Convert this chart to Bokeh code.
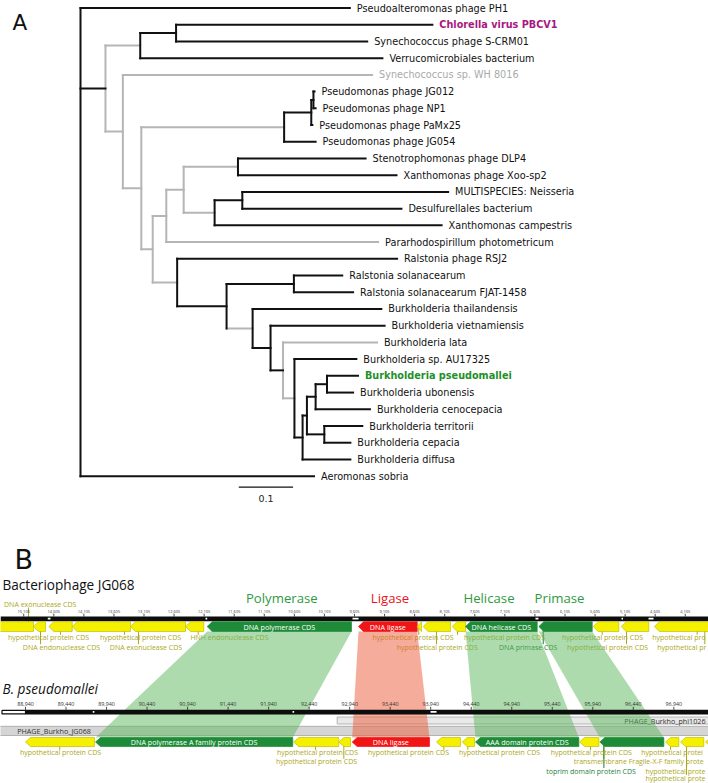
from bokeh.plotting import figure
from bokeh.layouts import column
from bokeh.models import Range1d, ColumnDataSource
from bokeh.core.properties import value
from bokeh.embed import file_html
from bokeh.resources import INLINE

# ---------------- layout constants ----------------
W, H = 708, 783
REF_W, REF_H = 708.0, 783.0
SX, SY = W / REF_W, H / REF_H
HA = 520
HB = H - HA
SPLIT = HA / SY


def fs(px):
    return "%.2fpx" % (px * SX)


# ================= Panel A: tree data =================
leaf_order = ["PH1", "Chlorella", "SCRM01", "Verruco", "WH8016", "JG012", "NP1", "PaMx25", "JG054",
              "DLP4", "Xoo", "MULTI", "Desulf", "Xcamp", "Parar", "RSJ2", "Rsol", "FJAT", "thai",
              "viet", "lata", "AU", "pseudo", "ubon", "ceno", "terr", "cepacia", "diffusa", "Aeromonas"]
leaf_labels = ["Pseudoalteromonas phage PH1", "Chlorella virus PBCV1", "Synechococcus phage S-CRM01",
               "Verrucomicrobiales bacterium", "Synechococcus sp. WH 8016", "Pseudomonas phage JG012",
               "Pseudomonas phage NP1", "Pseudomonas phage PaMx25", "Pseudomonas phage JG054",
               "Stenotrophomonas phage DLP4", "Xanthomonas phage Xoo-sp2", "MULTISPECIES: Neisseria",
               "Desulfurellales bacterium", "Xanthomonas campestris", "Pararhodospirillum photometricum",
               "Ralstonia phage RSJ2", "Ralstonia solanacearum", "Ralstonia solanacearum FJAT-1458",
               "Burkholderia thailandensis", "Burkholderia vietnamiensis", "Burkholderia lata",
               "Burkholderia sp. AU17325", "Burkholderia pseudomallei", "Burkholderia ubonensis",
               "Burkholderia cenocepacia", "Burkholderia territorii", "Burkholderia cepacia",
               "Burkholderia diffusa", "Aeromonas sobria"]
leaf_highlight = {"Chlorella": "magenta", "WH8016": "gray", "pseudo": "green"}

node_name = ["root", "PH1", "N1", "Aeromonas", "N2", "N3", "Chlorella", "SCRM01", "Verruco",
             "N4", "WH8016", "N5", "Np", "Np2", "Np3", "JG012", "NP1", "PaMx25", "JG054",
             "N6", "N7", "N8", "Ndlp", "DLP4", "Xoo", "Nx", "Nmd", "MULTI", "Desulf", "Xcamp",
             "Parar", "Nr", "RSJ2", "Nr2", "Nral", "Rsol", "FJAT", "Nb1", "thai", "Nb2", "viet",
             "Nb3", "lata", "Nb4", "AU", "Nb5", "Nb6", "Nb7", "Nb8", "pseudo", "ubon", "ceno",
             "Nb9", "terr", "cepacia", "diffusa"]
node_parent = [None, "root", "root", "root", "N1", "N2", "N3", "N3", "N2",
               "N1", "N4", "N4", "N5", "Np", "Np2", "Np3", "Np3", "Np2", "Np",
               "N5", "N6", "N7", "N8", "Ndlp", "Ndlp", "N8", "Nx", "Nmd", "Nmd", "Nx",
               "N7", "N6", "Nr", "Nr", "Nr2", "Nral", "Nral", "Nr2", "Nb1", "Nb1", "Nb2",
               "Nb2", "Nb3", "Nb3", "Nb4", "Nb4", "Nb5", "Nb6", "Nb7", "Nb8", "Nb8", "Nb7",
               "Nb6", "Nb9", "Nb9", "Nb5"]
node_depth = [0.000, 0.496, 0.046, 0.430, 0.110, 0.176, 0.648, 0.528, 0.556,
              0.078, 0.537, 0.112, 0.375, 0.425, 0.429, 0.431, 0.433, 0.427, 0.433,
              0.133, 0.158, 0.190, 0.290, 0.525, 0.582, 0.247, 0.298, 0.677, 0.591, 0.665,
              0.548, 0.178, 0.583, 0.269, 0.393, 0.482, 0.502, 0.317, 0.554, 0.350, 0.560,
              0.373, 0.546, 0.394, 0.508, 0.409, 0.417, 0.433, 0.454, 0.511, 0.502, 0.533,
              0.449, 0.519, 0.497, 0.497]
# colour of the branch leading into each node (k = black, g = grey)
branch_col = ["k", "k", "k", "k", "g", "k", "k", "k", "k",
              "g", "g", "g", "g", "k", "k", "k", "k", "k", "k",
              "g", "g", "g", "g", "k", "k", "g", "k", "k", "k", "k",
              "g", "g", "k", "k", "k", "k", "k", "g", "k", "k", "k",
              "k", "g", "g", "k", "k", "k", "k", "k", "k", "k", "k",
              "k", "k", "k", "k"]
# colour of the vertical connector of each internal node
clade_col = {"root": "k", "N1": "g", "N2": "k", "N3": "k", "N4": "g", "N5": "g", "Np": "k",
             "Np2": "k", "Np3": "k", "N6": "g", "N7": "g", "N8": "g", "Ndlp": "k", "Nx": "k",
             "Nmd": "k", "Nr": "k", "Nr2": "k", "Nral": "k", "Nb1": "k", "Nb2": "k", "Nb3": "g",
             "Nb4": "k", "Nb5": "k", "Nb6": "k", "Nb7": "k", "Nb8": "k", "Nb9": "k"}
SCALE_VALUE = 0.1
SCALE_START = 0.2915

# ================= Panel B: genome data =================
ph_ticks = [15105, 14605, 14105, 13605, 13105, 12605, 12105, 11605, 11105, 10605, 10105, 9605,
            9105, 8605, 8105, 7605, 7105, 6605, 6105, 5605, 5105, 4605, 4105]
ps_ticks = [88940, 89440, 89940, 90440, 90940, 91440, 91940, 92440, 92940, 93440, 93940,
            94440, 94940, 95440, 95940, 96440, 96940]

# phage genes: arrow goes from `from` to `to` (tip at `to`)
ph_gene_from = [14943, 14743, 14299, 13330, 12415, 12111, 9655, 8562, 8491, 8009, 7759, 6567, 5652,
                5210, 4711, 2854]
ph_gene_to = [15824, 14943, 14688, 14299, 13330, 12415, 12054, 9538, 8562, 8463, 7980, 7759, 6540,
              5636, 5170, 4617]
ph_gene_kind = ["hyp", "hyp", "hyp", "hyp", "hyp", "hyp", "green", "red", "hyp", "hyp", "hyp",
                "green", "green", "hyp", "hyp", "hyp"]
ph_gene_text = ["", "", "", "", "", "", "DNA polymerase CDS", "DNA ligase", "", "", "",
                "DNA helicase CDS", "", "", "", ""]

# feature labels (text as visible in the figure; the last ones run off the right edge there)
ph_lab_text = ["DNA exonuclease CDS", "DNA endonuclease CDS", "hypothetical protein CDS",
               "hypothetical protein CDS", "DNA exonuclease CDS", "HNH endonuclease CDS",
               "hypothetical protein CDS", "hypothetical protein CDS", "hypothetical protein CDS",
               "DNA primase CDS", "hypothetical protein CDS", "hypothetical protein CDS",
               "hypothetical pro", "hypothetical pr"]
ph_lab_bp = [14831, 14477, 14693, 13163, 13072, 11684, 8632, 8230, 7111, 6717, 5481, 5398, 4655, 4572]
ph_lab_line = [15026, 14826, 14494, 13429, 13197, 12204, 8536, 8242, 7892, 6467, 5486, 5082, 3907, 3780]
ph_lab_row = [0, 2, 1, 1, 2, 1, 1, 2, 1, 2, 1, 2, 1, 2]
ph_lab_kind = ["hyp"] * 9 + ["green"] + ["hyp"] * 4
ph_lab_align = ["center"] * 12 + ["left", "left"]
ph_marks_lo = [14660, 12054, 9538, 6546, 5140, 4633]
ph_marks_hi = [14705, 12082, 9638, 6596, 5165, 4716]

ps_gene_from = [89791, 92238, 92806, 92951, 93925, 94308, 94481, 95768, 96015, 96817, 97002, 97310, 97763]
ps_gene_to = [88940, 89804, 92250, 92806, 92971, 94012, 94329, 94493, 95776, 96027, 96838, 97023, 97331]
ps_gene_kind = ["hyp", "green", "hyp", "hyp", "red", "hyp", "hyp", "green", "hyp", "green", "hyp",
                "hyp", "hyp"]
ps_gene_text = ["", "DNA polymerase A family protein CDS", "", "", "DNA ligase", "", "",
                "AAA domain protein CDS", "", "", "", "", ""]

ps_lab_text = ["hypothetical protein CDS", "hypothetical protein CDS", "hypothetical protein CDS",
               "hypothetical protein CDS", "hypothetical protein CDS", "hypothetical protein CDS",
               "transmembrane Fragile-X-F family prote", "toprim domain protein CDS",
               "hypothetical protei", "hypothetical prote", "hypothetical prote"]
ps_lab_bp = [89372, 92543, 92531, 93666, 94789, 95922, 95706, 95918, 96538, 96591, 96591]
ps_lab_line = [89363, 92519, 92868, 94102, 94398, 95912, 96077, 96077, 96899, 97097, 97097]
ps_lab_row = [1, 1, 2, 1, 1, 1, 2, 3, 1, 3, 4]
ps_lab_kind = ["hyp"] * 7 + ["green"] + ["hyp"] * 3
ps_lab_align = ["center"] * 6 + ["left", "center", "left", "left", "left"]
ps_marks_lo = [89770, 92235, 93938]
ps_marks_hi = [89790, 92255, 94012]

ps_region_name = ["PHAGE_Burkho_phi1026", "PHAGE_Burkho_JG068"]
ps_region_lo = [92786, 88500]
ps_region_hi = [97600, 97600]

head_text = ["Polymerase", "Ligase", "Helicase", "Primase"]
head_bp = [10814, 9015, 7369, 6196]
head_kind = ["green", "red", "green", "green"]

# homologous pairs (index into phage genes, index into B. pseudomallei genes)
hom_ph = [6, 7, 11, 12]
hom_ps = [1, 4, 7, 9]

# ---------------- styles ----------------
TREE_COL = {"k": "#111111", "g": "#b5b5b5"}
HL_COL = {"magenta": "#a7197f", "gray": "#aaaaaa", "green": "#23902a", "": "#111111"}
GENE_FILL = {"hyp": "#f4f000", "green": "#1e8b38", "red": "#f21515"}
GENE_LINE = {"hyp": "#c4bf00", "green": "#1e8b38", "red": "#f21515"}
LAB_COL = {"hyp": "#aca71a", "green": "#1f7d3c"}
HEAD_COL = {"green": "#2f9a3f", "red": "#e8141b"}
HOM_COL = {"green": "#5cb85c", "red": "#ee5a36"}
FONT = "Open Sans"
LETTER_FONT = "DejaVu Sans"

# ================= Panel A figure =================
ROOT_PX, PX_PER_UNIT = 80.0, 543.0
TOP_PX, ROW_PX = 7.5, 16.72
xa = Range1d(start=(0 - ROOT_PX) / PX_PER_UNIT, end=(REF_W - ROOT_PX) / PX_PER_UNIT)
ya = Range1d(start=(SPLIT - TOP_PX) / ROW_PX, end=(0 - TOP_PX) / ROW_PX)
pA = figure(width=W, height=HA, x_range=xa, y_range=ya, output_backend="svg",
            toolbar_location=None, min_border=0, x_axis_location=None, y_axis_location=None,
            outline_line_color=None, background_fill_color="white", border_fill_color="white")
pA.grid.visible = False

depth = dict(zip(node_name, node_depth))
children = {}
for n, par in zip(node_name, node_parent):
    if par is not None:
        children.setdefault(par, []).append(n)
leaf_index = {n: i for i, n in enumerate(leaf_order)}
ypos = {}


def gety(n):
    if n in ypos:
        return ypos[n]
    if n in leaf_index:
        ypos[n] = float(leaf_index[n])
    else:
        ys = [gety(c) for c in children[n]]
        ypos[n] = (min(ys) + max(ys)) / 2.0
    return ypos[n]


for n in node_name:
    gety(n)

for col in ["g", "k"]:
    hx0, hx1, hy = [], [], []
    for n, par, bc in zip(node_name, node_parent, branch_col):
        if par is None or bc != col:
            continue
        hx0.append(depth[par]); hx1.append(depth[n]); hy.append(ypos[n])
    pA.segment(x0=hx0, y0=hy, x1=hx1, y1=hy, line_color=TREE_COL[col], line_width=2,
               line_cap="square")
    vx, vy0, vy1 = [], [], []
    for n, cc in clade_col.items():
        if cc != col:
            continue
        ys = [ypos[c] for c in children[n]]
        vx.append(depth[n]); vy0.append(min(ys)); vy1.append(max(ys))
    pA.segment(x0=vx, y0=vy0, x1=vx, y1=vy1, line_color=TREE_COL[col], line_width=2,
               line_cap="square")

lab_src = ColumnDataSource(dict(
    x=[depth[n] for n in leaf_order],
    y=[ypos[n] for n in leaf_order],
    text=leaf_labels,
    color=[HL_COL[leaf_highlight.get(n, "")] for n in leaf_order],
    style=["bold" if leaf_highlight.get(n, "") in ("magenta", "green") else "normal" for n in leaf_order],
))
pA.text(x="x", y="y", text="text", source=lab_src, text_color="color", text_font_style="style",
        text_font=value("DejaVu Sans"), text_font_size=fs(9.7), text_baseline="middle",
        text_align="left", x_offset=7 * SX)

n_leaf = len(leaf_order)
bar_y = n_leaf - 1 + 0.66
pA.segment(x0=[SCALE_START], y0=[bar_y], x1=[SCALE_START + SCALE_VALUE], y1=[bar_y],
           line_color="#111111", line_width=1.3)
pA.text(x=[SCALE_START + SCALE_VALUE / 2], y=[bar_y + 0.68], text=["%g" % SCALE_VALUE],
        text_font=value("DejaVu Sans"), text_font_size=fs(9.5), text_align="center",
        text_baseline="middle", text_color="#222222")
pA.text(x=[(12 - ROOT_PX) / PX_PER_UNIT], y=[(21.5 - TOP_PX) / ROW_PX], text=["A"],
        text_font=value(LETTER_FONT), text_font_size=fs(21.5), text_baseline="alphabetic",
        text_align="left", text_color="#111111")

# ================= Panel B figure =================
PH_REF_BP, PH_REF_PX, PH_PX_PER_BP = 9605.0, 354.0, 0.06014
PS_REF_BP, PS_REF_PX, PS_PX_PER_BP = 88940.0, 25.0, 0.08104
xb = Range1d(start=PH_REF_BP + PH_REF_PX / PH_PX_PER_BP,
             end=PH_REF_BP - (REF_W - PH_REF_PX) / PH_PX_PER_BP)
xps = Range1d(start=PS_REF_BP - PS_REF_PX / PS_PX_PER_BP,
              end=PS_REF_BP + (REF_W - PS_REF_PX) / PS_PX_PER_BP)
yb = Range1d(start=REF_H, end=SPLIT)
pB = figure(width=W, height=HB, x_range=xb, y_range=yb, output_backend="svg",
            toolbar_location=None, min_border=0, x_axis_location=None, y_axis_location=None,
            outline_line_color=None, background_fill_color="white", border_fill_color="white")
pB.extra_x_ranges = {"ps": xps}
pB.grid.visible = False

PH_BP_PER_PX = abs(xb.end - xb.start) / REF_W
PS_BP_PER_PX = abs(xps.end - xps.start) / REF_W


def ps_to_ph(bp):
    return xb.start + (bp - xps.start) / (xps.end - xps.start) * (xb.end - xb.start)


def arrow(frm, to, y0, y1, tip):
    d = to - frm
    s = 1 if d > 0 else -1
    t = s * min(tip, abs(d))
    ym = (y0 + y1) / 2.0
    return [frm, to - t, to, to - t, frm], [y0, y0, ym, y1, y1]


# vertical layout (reference pixels)
Y_B_BASE, Y_PH_TITLE, Y_HEAD = 559.0, 583.5, 597.5
Y_PH_TICKLAB, Y_PH_TICK, Y_PH_BAR = 611.3, (613.3, 616.0), (616.0, 620.8)
Y_PH_GENE = (621.2, 631.0)
PH_ROWS = {0: 604.0, 1: 637.3, 2: 646.7}
Y_PS_TITLE = 688.3
Y_PS_TICKLAB, Y_PS_TICK, Y_PS_BAR = 703.6, (706.3, 709.3), (709.3, 714.0)
Y_REGION = [(716.5, 723.5), (725.8, 735.0)]
Y_PS_GENE = (737.0, 746.0)
PS_ROWS = {1: 752.3, 2: 761.3, 3: 770.5, 4: 777.5}
TIP_PX = 5.0

# titles
pB.text(x=[xb.start - 14 * PH_BP_PER_PX], y=[Y_B_BASE], text=["B"], text_font=value(LETTER_FONT),
        text_font_size=fs(27), text_baseline="alphabetic", text_align="left", text_color="#111111")
pB.text(x=[xb.start - 2 * PH_BP_PER_PX], y=[Y_PH_TITLE], text=["Bacteriophage JG068"],
        text_font=value(FONT), text_font_size=fs(13.6), text_baseline="middle", text_align="left",
        text_color="#111111")
pB.text(x=[xps.start + 2 * PS_BP_PER_PX], y=[Y_PS_TITLE], text=["B. pseudomallei"], x_range_name="ps",
        text_font=value(FONT), text_font_size=fs(13.6), text_font_style="italic",
        text_baseline="middle", text_align="left", text_color="#111111")
pB.text(x=head_bp, y=[Y_HEAD] * len(head_bp), text=head_text,
        text_color=[HEAD_COL[k] for k in head_kind], text_font=value(FONT),
        text_font_size=fs(13.2), text_baseline="middle", text_align="center")

# region bars (B. pseudomallei)
for name, lo, hi, (y0, y1), fill, tx_al in zip(ps_region_name, ps_region_lo, ps_region_hi, Y_REGION,
                                                ["#e9e9e9", "#d5d5d5"], ["right", "left"]):
    pB.quad(left=[lo], right=[hi], bottom=[y1], top=[y0], x_range_name="ps", fill_color=fill,
            line_color="#a5a5a5", line_width=0.8)
    tx = xps.end - 3 * PS_BP_PER_PX if tx_al == "right" else xps.start + 16.7 * PS_BP_PER_PX
    pB.text(x=[tx], y=[(y0 + y1) / 2], text=[name], x_range_name="ps", text_font=value(FONT),
            text_font_size=fs(7.2), text_baseline="middle", text_align=tx_al, text_color="#333333")


# feature labels + leader lines
def draw_labels(texts, bps, lines, rows, kinds, aligns, rowmap, gene_y, rng):
    kw = {} if rng is None else {"x_range_name": rng}
    gy = (gene_y[0] + gene_y[1]) / 2
    x0, y0, y1, cols = [], [], [], []
    for lb, r, k in zip(lines, rows, kinds):
        ry = rowmap[r]
        x0.append(lb); y0.append(gy)
        y1.append(ry + 3.0 if r == 0 else ry - 3.0)
        cols.append(LAB_COL[k])
    pB.segment(x0=x0, y0=y0, x1=x0, y1=y1, line_color=cols, line_width=1.0, **kw)
    for al in ("center", "left"):
        idx = [i for i, a in enumerate(aligns) if a == al]
        if not idx:
            continue
        pB.text(x=[bps[i] for i in idx], y=[rowmap[rows[i]] for i in idx],
                text=[texts[i] for i in idx], text_color=[LAB_COL[kinds[i]] for i in idx],
                text_font=value(FONT), text_font_size=fs(7.0), text_baseline="middle",
                text_align=al, **kw)


draw_labels(ph_lab_text, ph_lab_bp, ph_lab_line, ph_lab_row, ph_lab_kind, ph_lab_align, PH_ROWS,
            Y_PH_GENE, None)
draw_labels(ps_lab_text, ps_lab_bp, ps_lab_line, ps_lab_row, ps_lab_kind, ps_lab_align, PS_ROWS,
            Y_PS_GENE, "ps")

# homology ribbons
hx, hy, hc = [], [], []
for i, j in zip(hom_ph, hom_ps):
    ph_lo = min(ph_gene_from[i], ph_gene_to[i]); ph_hi = max(ph_gene_from[i], ph_gene_to[i])
    ps_lo = min(ps_gene_from[j], ps_gene_to[j]); ps_hi = max(ps_gene_from[j], ps_gene_to[j])
    hx.append([ph_hi, ph_lo, ps_to_ph(ps_hi), ps_to_ph(ps_lo)])
    hy.append([Y_PH_GENE[1], Y_PH_GENE[1], Y_PS_GENE[0], Y_PS_GENE[0]])
    hc.append(HOM_COL["red" if ph_gene_kind[i] == "red" else "green"])
pB.patches(xs=hx, ys=hy, fill_color=hc, fill_alpha=0.5, line_color=None)


# rulers
def draw_ruler(ticks, tick_y, lab_y, bar_y, marks_lo, marks_hi, rng, lab_size, x_start, x_end):
    kw = {} if rng is None else {"x_range_name": rng}
    pB.segment(x0=ticks, y0=[tick_y[0]] * len(ticks), x1=ticks, y1=[tick_y[1]] * len(ticks),
               line_color="#222222", line_width=0.8, **kw)
    pB.text(x=ticks, y=[lab_y] * len(ticks), text=["{:,}".format(t) for t in ticks],
            text_font=value(FONT), text_font_size=fs(lab_size), text_baseline="middle",
            text_align="center", text_color="#333333", **kw)
    pB.quad(left=[x_start], right=[x_end], bottom=[bar_y[1]], top=[bar_y[0]], fill_color="#0d0d0d",
            line_color=None, **kw)
    pB.quad(left=marks_lo, right=marks_hi, bottom=[bar_y[0] + 3.0] * len(marks_lo),
            top=[bar_y[0] + 1.2] * len(marks_lo), fill_color="white", line_color=None, **kw)


draw_ruler(ph_ticks, Y_PH_TICK, Y_PH_TICKLAB, Y_PH_BAR, ph_marks_lo, ph_marks_hi, None, 4.0,
           xb.start, xb.end)
draw_ruler(ps_ticks, Y_PS_TICK, Y_PS_TICKLAB, Y_PS_BAR, ps_marks_lo, ps_marks_hi, "ps", 5.3,
           ps_ticks[0], xps.end)
pB.quad(left=[xps.start + 1.5 * PS_BP_PER_PX], right=[ps_ticks[0]], bottom=[Y_PS_BAR[1] - 0.6],
        top=[Y_PS_BAR[0] + 0.6], x_range_name="ps", fill_color="white", line_color="#0d0d0d",
        line_width=1.2)


# genes
def draw_genes(frm, to, kinds, texts, gene_y, bpp, rng):
    kw = {} if rng is None else {"x_range_name": rng}
    xs, ys = [], []
    for a, b in zip(frm, to):
        gx, gy = arrow(a, b, gene_y[0], gene_y[1], TIP_PX * bpp)
        xs.append(gx); ys.append(gy)
    pB.patches(xs=xs, ys=ys, fill_color=[GENE_FILL[k] for k in kinds],
               line_color=[GENE_LINE[k] for k in kinds], line_width=0.7, **kw)
    tx = [(a + b) / 2 for a, b, t in zip(frm, to, texts) if t]
    tt = [t for t in texts if t]
    pB.text(x=tx, y=[(gene_y[0] + gene_y[1]) / 2] * len(tt), text=tt, text_color="white",
            text_font=value(FONT), text_font_size=fs(7.2), text_baseline="middle",
            text_align="center", **kw)


draw_genes(ph_gene_from, ph_gene_to, ph_gene_kind, ph_gene_text, Y_PH_GENE, PH_BP_PER_PX, None)
draw_genes(ps_gene_from, ps_gene_to, ps_gene_kind, ps_gene_text, Y_PS_GENE, PS_BP_PER_PX, "ps")

layout = column(pA, pB, spacing=0)
open("out.html", "w").write(file_html(layout, INLINE))
